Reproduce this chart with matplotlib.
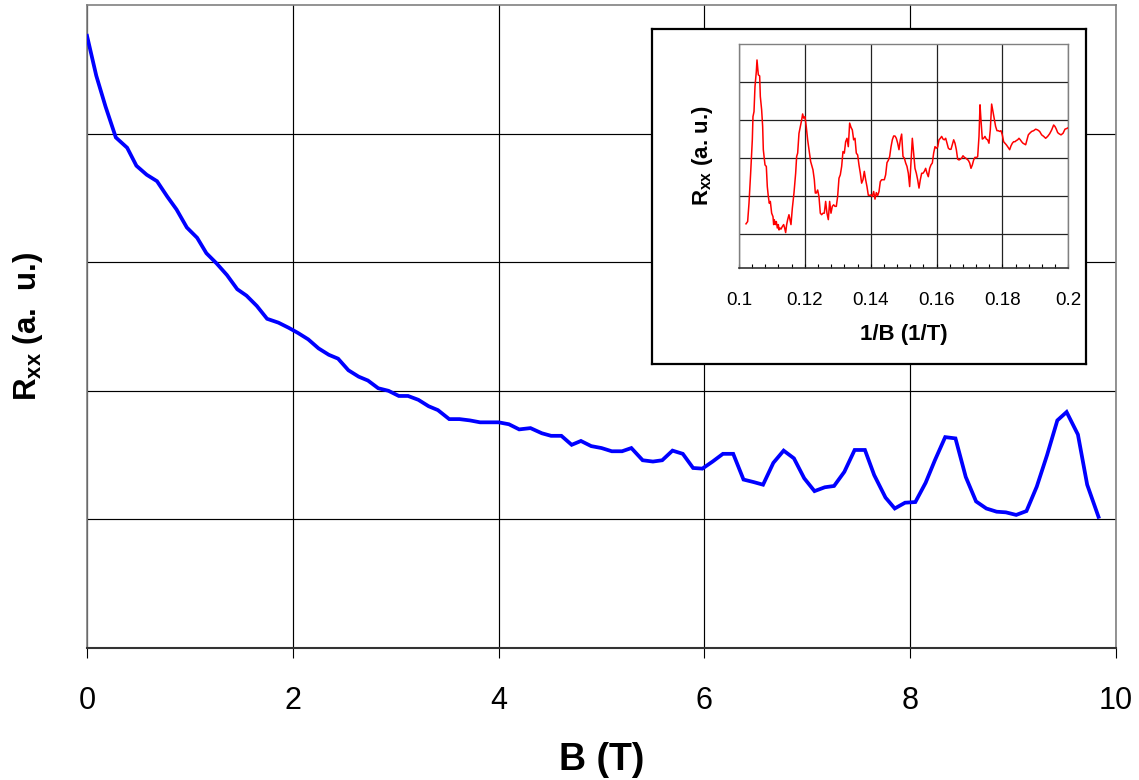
"""
Longitudinal resistance vs. magnetic field, with an inset of the
oscillating part against 1/B (Shubnikov-de Haas style plot).
"""

import matplotlib
matplotlib.use("Agg")
import matplotlib.pyplot as plt
import matplotlib.ticker as mticker

plt.rcParams["font.family"] = "Liberation Sans"
plt.rcParams["mathtext.fontset"] = "custom"
plt.rcParams["mathtext.rm"] = "Liberation Sans"
plt.rcParams["mathtext.bf"] = "Liberation Sans:bold"

# main trace: B (T) and Rxx (a.u.)
B = [0.00, 0.09, 0.18, 0.28, 0.39, 0.48, 0.58, 0.68, 0.78, 0.87,
     0.97, 1.07, 1.16, 1.26, 1.36, 1.46, 1.55, 1.65, 1.75, 1.86,
     1.96, 2.05, 2.15, 2.25, 2.35, 2.44, 2.54, 2.64, 2.73, 2.83,
     2.93, 3.03, 3.12, 3.22, 3.32, 3.41, 3.52, 3.62, 3.72, 3.82,
     3.91, 4.00, 4.10, 4.20, 4.31, 4.42, 4.51, 4.61, 4.71, 4.80,
     4.90, 5.00, 5.10, 5.20, 5.29, 5.40, 5.50, 5.59, 5.69, 5.79,
     5.89, 5.98, 6.08, 6.18, 6.28, 6.38, 6.48, 6.57, 6.67, 6.77,
     6.87, 6.97, 7.07, 7.17, 7.26, 7.36, 7.46, 7.56, 7.65, 7.76,
     7.85, 7.95, 8.05, 8.15, 8.24, 8.34, 8.44, 8.54, 8.64, 8.74,
     8.84, 8.93, 9.03, 9.13, 9.23, 9.33, 9.43, 9.52, 9.63, 9.72,
     9.83]
RXX = [4.76, 4.45, 4.21, 3.97, 3.89, 3.75, 3.68, 3.63, 3.51, 3.41,
       3.27, 3.19, 3.07, 2.99, 2.90, 2.79, 2.74, 2.66, 2.56, 2.53,
       2.49, 2.45, 2.40, 2.33, 2.28, 2.25, 2.16, 2.11, 2.08, 2.02,
       2.00, 1.96, 1.96, 1.93, 1.88, 1.85, 1.78, 1.78, 1.77, 1.755,
       1.755, 1.755, 1.74, 1.70, 1.71, 1.67, 1.65, 1.65, 1.58, 1.61,
       1.57, 1.555, 1.53, 1.53, 1.555, 1.46, 1.45, 1.46, 1.535, 1.51,
       1.40, 1.395, 1.45, 1.51, 1.51, 1.31, 1.29, 1.27, 1.44, 1.535,
       1.475, 1.32, 1.22, 1.25, 1.26, 1.37, 1.54, 1.54, 1.345, 1.17,
       1.085, 1.13, 1.135, 1.285, 1.46, 1.64, 1.63, 1.33, 1.14, 1.085,
       1.06, 1.055, 1.035, 1.065, 1.255, 1.50, 1.77, 1.835, 1.66, 1.27,
       1.02]

# inset trace: 1/B (1/T) and Rxx (a.u.)
INV_B = [0.10213, 0.10263, 0.10304, 0.10354, 0.10405, 0.10425, 0.10456, 0.10486, 0.10526, 0.10547,
         0.10567, 0.10587, 0.10628, 0.10648, 0.10688, 0.10719, 0.10739, 0.10790, 0.10830, 0.10860,
         0.10891, 0.10921, 0.10952, 0.10992, 0.11033, 0.11053, 0.11073, 0.11103, 0.11134, 0.11164,
         0.11194, 0.11215, 0.11245, 0.11275, 0.11316, 0.11356, 0.11387, 0.11417, 0.11448, 0.11478,
         0.11518, 0.11549, 0.11579, 0.11620, 0.11670, 0.11721, 0.11751, 0.11782, 0.11822, 0.11863,
         0.11903, 0.11933, 0.11964, 0.12004, 0.12045, 0.12085, 0.12126, 0.12176, 0.12217, 0.12247,
         0.12288, 0.12318, 0.12348, 0.12389, 0.12429, 0.12470, 0.12510, 0.12551, 0.12591, 0.12632,
         0.12672, 0.12713, 0.12753, 0.12794, 0.12834, 0.12875, 0.12915, 0.12956, 0.12996, 0.13037,
         0.13077, 0.13118, 0.13158, 0.13199, 0.13239, 0.13280, 0.13320, 0.13361, 0.13401, 0.13442,
         0.13482, 0.13523, 0.13563, 0.13604, 0.13644, 0.13685, 0.13725, 0.13766, 0.13806, 0.13847,
         0.13887, 0.13928, 0.13968, 0.14009, 0.14049, 0.14090, 0.14130, 0.14171, 0.14211, 0.14252,
         0.14292, 0.14333, 0.14373, 0.14414, 0.14454, 0.14495, 0.14535, 0.14576, 0.14616, 0.14657,
         0.14697, 0.14738, 0.14778, 0.14819, 0.14859, 0.14900, 0.14940, 0.14981, 0.15021, 0.15062,
         0.15102, 0.15143, 0.15183, 0.15224, 0.15264, 0.15305, 0.15345, 0.15386, 0.15426, 0.15467,
         0.15507, 0.15548, 0.15588, 0.15629, 0.15669, 0.15710, 0.15750, 0.15791, 0.15831, 0.15872,
         0.15912, 0.15953, 0.15993, 0.16034, 0.16074, 0.16115, 0.16155, 0.16196, 0.16236, 0.16277,
         0.16317, 0.16358, 0.16398, 0.16439, 0.16479, 0.16520, 0.16560, 0.16601, 0.16641, 0.16682,
         0.16722, 0.16763, 0.16803, 0.16844, 0.16884, 0.16925, 0.16965, 0.17006, 0.17046, 0.17087,
         0.17127, 0.17168, 0.17208, 0.17249, 0.17289, 0.17320, 0.17349, 0.17389, 0.17430, 0.17470,
         0.17511, 0.17551, 0.17592, 0.17632, 0.17673, 0.17713, 0.17754, 0.17794, 0.17835, 0.17875,
         0.17916, 0.17956, 0.17997, 0.18037, 0.18078, 0.18118, 0.18159, 0.18220, 0.18260, 0.18301,
         0.18341, 0.18382, 0.18422, 0.18463, 0.18503, 0.18544, 0.18584, 0.18625, 0.18665, 0.18706,
         0.18746, 0.18787, 0.18827, 0.18888, 0.18949, 0.19010, 0.19070, 0.19131, 0.19192, 0.19253,
         0.19313, 0.19374, 0.19435, 0.19496, 0.19556, 0.19597, 0.19637, 0.19678, 0.19718, 0.19779,
         0.19840, 0.19901, 0.19961, 0.20000]
RXX_INSET = [1.27, 1.33, 1.81, 2.60, 3.48, 4.09, 4.22, 4.88, 5.27, 5.58,
             5.40, 5.19, 5.16, 4.62, 4.27, 3.83, 3.22, 2.82, 2.78, 2.25,
             1.99, 1.81, 1.86, 1.55, 1.46, 1.25, 1.38, 1.25, 1.33, 1.16,
             1.25, 1.11, 1.16, 1.13, 1.20, 1.25, 1.16, 1.04, 1.25, 1.38,
             1.51, 1.38, 1.25, 1.68, 2.08, 2.60, 3.04, 3.13, 3.65, 3.83,
             4.00, 4.16, 4.05, 4.09, 3.81, 3.48, 3.22, 2.91, 2.78, 2.69,
             2.43, 2.08, 2.08, 2.16, 1.99, 1.55, 1.51, 1.55, 1.55, 1.86,
             1.55, 1.38, 1.86, 1.55, 1.73, 1.77, 1.73, 1.73, 1.99, 2.47,
             2.56, 2.78, 3.17, 3.13, 3.43, 3.52, 3.30, 3.92, 3.81, 3.74,
             3.48, 3.52, 3.13, 3.08, 2.82, 2.60, 2.34, 2.43, 2.65, 2.43,
             2.25, 2.02, 2.02, 2.03, 1.99, 2.12, 1.92, 2.09, 2.01, 2.12,
             2.38, 2.43, 2.43, 2.43, 2.56, 2.88, 2.94, 3.04, 3.29, 3.48,
             3.58, 3.58, 3.52, 3.39, 3.22, 3.48, 3.63, 3.04, 3.00, 2.87,
             2.78, 2.60, 2.25, 2.87, 3.52, 3.13, 2.73, 2.60, 2.43, 2.21,
             2.43, 2.60, 2.60, 2.65, 2.73, 2.60, 2.51, 2.73, 2.82, 2.87,
             3.13, 3.30, 3.26, 3.29, 3.48, 3.52, 3.57, 3.50, 3.48, 3.52,
             3.39, 3.26, 3.23, 3.23, 3.35, 3.48, 3.39, 3.22, 2.97, 2.95,
             2.97, 3.00, 3.06, 3.02, 3.00, 2.97, 2.94, 2.87, 2.73, 2.82,
             2.95, 3.02, 3.01, 3.04, 3.57, 4.40, 4.00, 3.50, 3.52, 3.57,
             3.50, 3.48, 3.39, 3.74, 4.42, 4.22, 4.00, 3.83, 3.72, 3.72,
             3.70, 3.72, 3.61, 3.43, 3.39, 3.35, 3.30, 3.22, 3.32, 3.39,
             3.43, 3.43, 3.46, 3.48, 3.52, 3.48, 3.43, 3.39, 3.37, 3.35,
             3.48, 3.61, 3.65, 3.70, 3.72, 3.76, 3.74, 3.70, 3.61, 3.57,
             3.52, 3.57, 3.64, 3.74, 3.87, 3.83, 3.76, 3.67, 3.64, 3.61,
             3.65, 3.76, 3.78, 3.80]

MAIN_XTICKS = [0, 2, 4, 6, 8, 10]
INSET_XTICKS = [0.1, 0.12, 0.14, 0.16, 0.18, 0.2]
INSET_XTICKLABELS = ["0.1", "0.12", "0.14", "0.16", "0.18", "0.2"]

GRAY = "#808080"

fig = plt.figure(figsize=(11.39, 7.8), dpi=100)

# ---- main panel ----
ax = fig.add_axes([0.0764, 0.1692, 0.9034, 0.8244])
ax.plot(B, RXX, color="#0000ff", lw=2.7, solid_joinstyle="miter", zorder=3)
ax.set_xlim(0, 10)
ax.set_ylim(0, 5)
ax.set_xticks(MAIN_XTICKS)
ax.set_yticks([1, 2, 3, 4])
ax.set_yticklabels([])
ax.tick_params(axis="y", length=0)
ax.tick_params(axis="x", direction="out", length=7, width=0.8, pad=20, labelsize=22)
ax.grid(True, color="black", lw=0.85)
for side in ("left", "top", "right"):
    ax.spines[side].set_color(GRAY)
    ax.spines[side].set_linewidth(1.2)
ax.spines["bottom"].set_color("#333333")
ax.spines["bottom"].set_linewidth(1.5)
ax.set_xlabel("B (T)", fontsize=27, fontweight="bold", labelpad=19)
ax.set_ylabel(r"$\mathbf{R_{xx}}$ (a.  u.)", fontsize=22.5, fontweight="bold", labelpad=27)

# ---- inset frame ----
frame = fig.add_axes([0.5724, 0.5333, 0.381, 0.4295], zorder=3)
frame.set_xticks([])
frame.set_yticks([])
frame.set_facecolor("white")
for sp in frame.spines.values():
    sp.set_color("black")
    sp.set_linewidth(1.6)

# ---- inset panel ----
ins = fig.add_axes([0.6488, 0.656, 0.2891, 0.2876], zorder=4)
ins.plot(INV_B, RXX_INSET, color="#ff0000", lw=1.1, zorder=3)
ins.set_xlim(0.1, 0.2)
ins.set_ylim(0.1, 6)
ins.set_xticks(INSET_XTICKS)
ins.set_xticklabels(INSET_XTICKLABELS)
ins.xaxis.set_minor_locator(mticker.MultipleLocator(0.004))
ins.set_yticks([1, 2, 3, 4, 5])
ins.set_yticklabels([])
ins.tick_params(axis="y", length=0)
ins.tick_params(axis="x", which="both", direction="in", length=3, width=0.8,
                pad=17, labelsize=13.5)
ins.grid(True, which="major", color="#222222", lw=0.9)
for side in ("left", "top", "right"):
    ins.spines[side].set_color(GRAY)
    ins.spines[side].set_linewidth(1.0)
ins.spines["bottom"].set_color("#333333")
ins.spines["bottom"].set_linewidth(1.2)
ins.set_xlabel("1/B (1/T)", fontsize=16, fontweight="bold", labelpad=11)
ins.set_ylabel(r"$\mathbf{R_{xx}}$ (a. u.)", fontsize=16, fontweight="bold", labelpad=14)

fig.savefig("out.png", dpi=100)
